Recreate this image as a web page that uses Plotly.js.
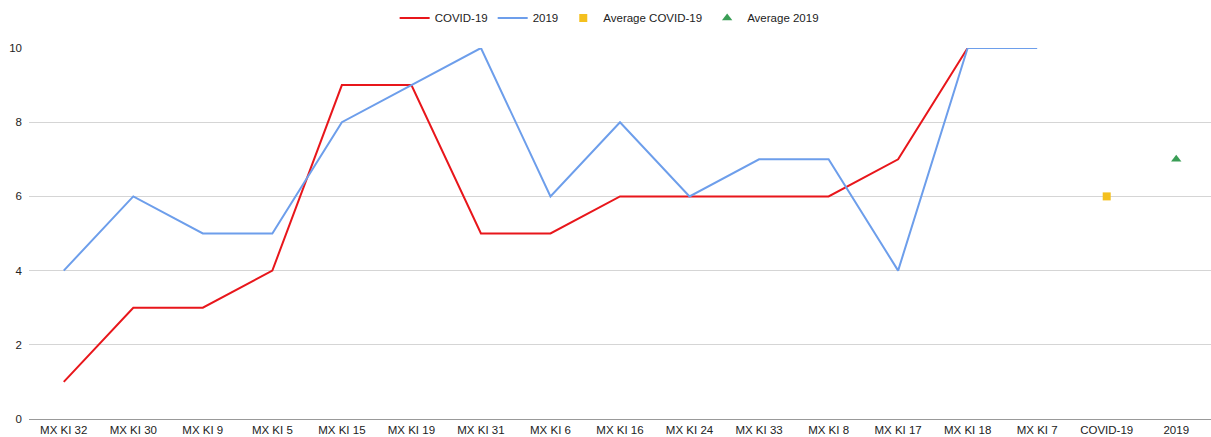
<!DOCTYPE html>
<html>
<head>
<meta charset="utf-8">
<script src="https://cdn.plot.ly/plotly-3.0.1.min.js"></script>
<style>html,body{margin:0;padding:0;background:#fff;}#chart{width:1211px;height:437px;}</style>
</head>
<body>
<div id="chart"></div>
<script>
const categories = ["MX KI 32","MX KI 30","MX KI 9","MX KI 5","MX KI 15","MX KI 19","MX KI 31","MX KI 6","MX KI 16","MX KI 24","MX KI 33","MX KI 8","MX KI 17","MX KI 18","MX KI 7","COVID-19","2019"];
const covid = [1,3,3,4,9,9,5,5,6,6,6,6,7,10,null,null,null];
const y2019 = [4,6,5,5,8,9,10,6,8,6,7,7,4,10,10,null,null];
const avgCovidCat = ["COVID-19"];
const avgCovid = [6];
const avg2019Cat = ["2019"];
const avg2019 = [7];
const yTicks = [0,2,4,6,8,10];

const traces = [
  {x: categories, y: covid, name: "COVID-19", type: "scatter", mode: "lines",
   line: {color: "#e8161b", width: 2}},
  {x: categories, y: y2019, name: "2019", type: "scatter", mode: "lines",
   line: {color: "#6d9eeb", width: 2}},
  {x: avgCovidCat, y: avgCovid, name: "Average COVID-19", type: "scatter", mode: "markers",
   marker: {color: "#f4c01e", symbol: "square", size: 8}},
  {x: avg2019Cat, y: avg2019, name: "Average 2019", type: "scatter", mode: "markers",
   marker: {color: "#3a9e56", symbol: "triangle-up", size: 9}}
];

const layout = {
  width: 1211, height: 437,
  margin: {l: 29, r: 0, t: 48, b: 18, autoexpand: false},
  paper_bgcolor: "#fff", plot_bgcolor: "#fff",
  font: {family: "Liberation Sans, Arial, sans-serif", size: 11.5, color: "#222"},
  showlegend: true,
  legend: {orientation: "h", x: 0.503, xanchor: "center", xref: "container",
           y: 0.959, yanchor: "middle", yref: "container",
           font: {size: 11.5, color: "#222"}, itemwidth: 30, traceorder: "normal"},
  xaxis: {type: "category", categoryorder: "array", categoryarray: categories,
          range: [-0.5, categories.length - 0.5],
          showgrid: false, zeroline: false, showline: true, linecolor: "#999", linewidth: 1,
          ticks: "", tickfont: {size: 11.5, color: "#222"}, automargin: false},
  yaxis: {range: [0, 10], tickvals: yTicks, ticktext: yTicks.map(String),
          showgrid: true, gridcolor: "#d5d5d5", gridwidth: 1, zeroline: false,
          showline: false, ticks: "", tickfont: {size: 11.5, color: "#222"},
          automargin: false, ticklabelstandoff: 6}
};

Plotly.newPlot("chart", traces, layout, {displayModeBar: false, staticPlot: true});
</script>
</body>
</html>
